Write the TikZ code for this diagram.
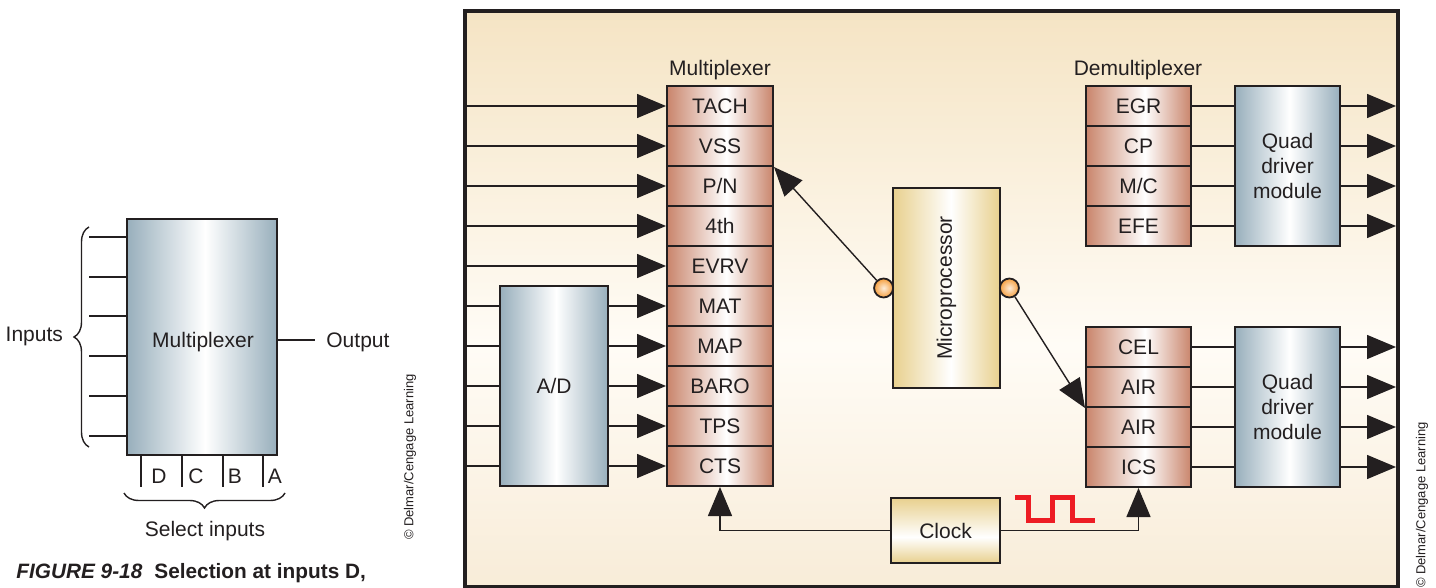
\documentclass[tikz,border=0pt]{standalone}
\usepackage{fontspec}
\setmainfont{Liberation Sans}
\usetikzlibrary{arrows.meta,positioning,decorations.pathreplacing}

\definecolor{ink}{RGB}{35,31,32}
\definecolor{cu}{RGB}{201,133,108}
\definecolor{steel}{RGB}{152,175,188}
\definecolor{brass}{RGB}{232,208,142}
\definecolor{bgtop}{RGB}{245,228,196}
\definecolor{bgmid}{RGB}{255,252,246}
\definecolor{bgbot}{RGB}{248,236,216}
\definecolor{pulse}{RGB}{237,28,36}
\definecolor{pin}{RGB}{246,160,64}

\pgfdeclarehorizontalshading{copperh}{100bp}{color(0bp)=(cu); color(25bp)=(cu); color(53bp)=(white); color(75bp)=(cu); color(100bp)=(cu)}
\pgfdeclarehorizontalshading{steelh}{100bp}{color(0bp)=(steel); color(25bp)=(steel); color(51bp)=(white); color(75bp)=(steel); color(100bp)=(steel)}
\pgfdeclarehorizontalshading{brassh}{100bp}{color(0bp)=(brass); color(25bp)=(brass); color(52bp)=(white); color(75bp)=(brass); color(100bp)=(brass)}
\pgfdeclareverticalshading{brassv}{100bp}{color(0bp)=(brass); color(25bp)=(brass); color(45bp)=(white); color(75bp)=(brass); color(100bp)=(brass)}
\pgfdeclareverticalshading{panelv}{100bp}{color(0bp)=(bgbot); color(25bp)=(bgbot); color(46bp)=(bgmid); color(75bp)=(bgtop); color(100bp)=(bgtop)}

\tikzset{
  panelbox/.style={draw=ink, line width=2pt, shading=panelv, minimum width=466.5pt, minimum height=288pt, inner sep=0pt, outer sep=-1pt},
  cell/.style={draw=ink, line width=1pt, shading=copperh, minimum width=53pt, minimum height=20pt, inner sep=0pt},
  steelbox/.style={draw=ink, line width=1pt, shading=steelh, inner sep=0pt, align=center},
  brassbox/.style={draw=ink, line width=1pt, shading=brassh, inner sep=0pt},
  pinball/.style={circle, draw=ink, line width=0.9pt, inner color=pin!20!white, outer color=pin, minimum size=9.5pt, inner sep=0pt},
  feed/.style={draw=ink, line width=0.7pt},
  feedarrow/.style={feed, -{Triangle[length=14.5pt,width=12pt]}},
  curly/.style={feed, decorate, decoration={brace, amplitude=7.5pt}},
  credit/.style={rotate=90, font=\fontsize{6.5}{7}\selectfont}
}

\begin{document}
\begin{tikzpicture}[x=0.5pt, y=-0.5pt, font=\fontsize{10.5}{12.5}\selectfont, text=ink]
\useasboundingbox (0,0) rectangle (1436,588);

% ---- small multiplexer on the left ----
\node[steelbox, minimum width=75pt, minimum height=118pt] (selmux) at (202,337) {};
\node (selmuxlbl) at (203,342) {Multiplexer};
% inputs
\foreach \y [count=\k] in {237,277,316,356,396,436} {
  \coordinate (in\k) at (89,\y);
  \draw[feed] (in\k) -- (in\k -| selmux.west);
}
\draw[curly] (89,447) -- (89,227);
\node[anchor=east] (inlbl) at (70,336) {Inputs};
% output
\coordinate (outend) at (315,340);
\draw[feed] (selmux.east |- outend) -- (outend);
\node[anchor=west, inner sep=0pt] (outlbl) at (326,342) {Output};
% select lines
\foreach \x/\l/\lx [count=\k] in {141/D/159,182/C/196,223/B/235,263/A/275} {
  \coordinate (sel\k) at (\x,487);
  \draw[feed] (sel\k |- selmux.south) -- (sel\k);
  \node (sellbl\k) at (\lx,476) {\l};
}
\draw[curly] (285,493) -- (124,493);
\node (selinlbl) at (205,531) {Select inputs};
% caption
\node[anchor=base west, inner sep=0pt, font=\fontsize{10.4}{12.5}\selectfont\bfseries] (caption) at (16,578) {\textit{FIGURE 9-18}\hspace{0.3em} Selection at inputs D,};
\node[credit] (credl) at (410,457) {© Delmar/Cengage Learning};

% ---- computer panel ----
\node[panelbox] (panel) at (931.5,299) {};

% multiplexer
\node (muxlbl) at (720,70) {Multiplexer};
\foreach \lbl [count=\i] in {TACH,VSS,P/N,4th,EVRV,MAT,MAP,BARO,TPS,CTS}
  \node[cell] (mx\i) at (720,{66+40*\i}) {\lbl};
\foreach \i in {1,...,5}
  \draw[feedarrow] (panel.west |- mx\i) -- (mx\i.west);

% A/D
\node[steelbox, minimum width=54pt, minimum height=100pt] (ad) at (554,386) {A/D};
\foreach \i in {6,...,10} {
  \draw[feed] (panel.west |- mx\i) -- (ad.west |- mx\i);
  \draw[feedarrow] (ad.east |- mx\i) -- (mx\i.west);
}

% microprocessor
\node[brassbox, minimum width=53.5pt, minimum height=100pt] (mpu) at (946.5,288) {};
\node[rotate=90] (mpulbl) at (mpu.center) {Microprocessor};
\node[pinball, left=-1pt of mpu.west] (pinl) {};
\node[pinball, right=-1pt of mpu.east] (pinr) {};

% demultiplexer
\node (dmxlbl) at (1138,70) {Demultiplexer};
\foreach \lbl [count=\i] in {EGR,CP,M/C,EFE}
  \node[cell, minimum width=52.5pt] (du\i) at (1138.5,{66+40*\i}) {\lbl};
\foreach \lbl [count=\i] in {CEL,AIR,AIR,ICS}
  \node[cell, minimum width=52.5pt] (dl\i) at (1138.5,{307+40*\i}) {\lbl};

% quad driver modules
\node[steelbox, minimum width=52.5pt, minimum height=80pt] (qu) at (1287.5,166) {Quad\\driver\\module};
\node[steelbox, minimum width=52.5pt, minimum height=80pt] (ql) at (1287.5,407) {Quad\\driver\\module};
\foreach \i in {1,...,4} {
  \draw[feed] (du\i.east) -- (qu.west |- du\i);
  \draw[feedarrow] (qu.east |- du\i) -- (panel.east |- du\i);
  \draw[feed] (dl\i.east) -- (ql.west |- dl\i);
  \draw[feedarrow] (ql.east |- dl\i) -- (panel.east |- dl\i);
}

% processor links
\draw[feedarrow] (pinl) -- (mx2.south east);
\draw[feedarrow] (pinr) -- (dl2.south west);

% clock
\node[brassbox, shading=brassv, minimum width=54.5pt, minimum height=32.5pt] (clk) at (945.5,530.5) {Clock};
\draw[feedarrow] (clk.west) -| (mx10.south);
\draw[feedarrow] (clk.east) -| (dl4.south);
% pulse train
\draw[pulse, line width=2.5pt] (1015,497) -- (1028,497) -- (1028,520) -- (1052,520)
  -- (1052,497) -- (1072,497) -- (1072,520) -- (1095,520);

\node[credit] (credr) at (1422,505) {© Delmar/Cengage Learning};
\end{tikzpicture}
\end{document}
